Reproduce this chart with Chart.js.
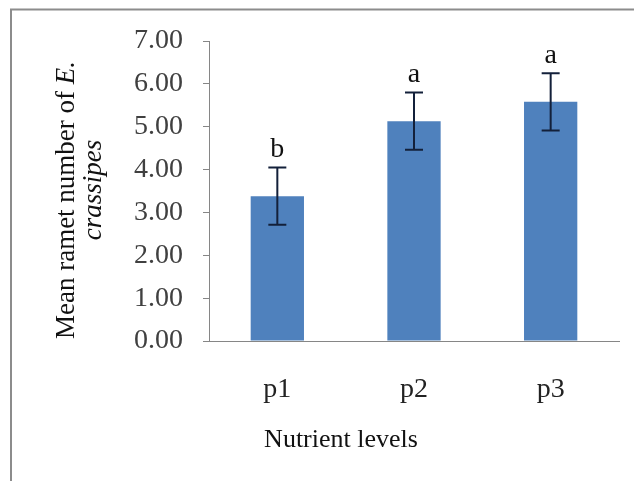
<!DOCTYPE html>
<html>
<head>
<meta charset="utf-8">
<script src="https://cdn.jsdelivr.net/npm/chart.js@4.4.0/dist/chart.umd.min.js"></script>
<style>
  html, body { margin: 0; padding: 0; background: #fff; }
  #wrap { width: 634px; height: 481px; }
</style>
</head>
<body>
<div id="wrap"><canvas id="barChart" width="634" height="481"></canvas></div>
<script>
var categories = ['p1', 'p2', 'p3'];
var means = [3.38, 5.13, 5.58];
var errors = [0.67, 0.67, 0.67];
var letters = ['b', 'a', 'a'];
var yMin = 0, yMax = 7, yStep = 1;

var serif = '"Liberation Serif", "Times New Roman", serif';

// frame, titles, error bars and letters
var extras = {
    id: 'extras',
    beforeDraw: function (chart) {
        var ctx = chart.ctx;
        ctx.save();
        ctx.strokeStyle = '#8c8c8c';
        ctx.lineWidth = 2;
        ctx.beginPath();
        ctx.moveTo(11, 490);
        ctx.lineTo(11, 9.5);
        ctx.lineTo(650, 9.5);
        ctx.stroke();
        ctx.restore();
    },
    afterDatasetsDraw: function (chart) {
        var ctx = chart.ctx;
        var meta = chart.getDatasetMeta(0);
        var y = chart.scales.y;
        ctx.save();
        ctx.strokeStyle = '#13203a';
        ctx.lineWidth = 2;
        ctx.fillStyle = '#111';
        ctx.font = '28px ' + serif;
        ctx.textAlign = 'center';
        ctx.textBaseline = 'alphabetic';
        meta.data.forEach(function (bar, i) {
            var top = y.getPixelForValue(means[i] + errors[i]);
            var bot = y.getPixelForValue(means[i] - errors[i]);
            ctx.beginPath();
            ctx.moveTo(bar.x, top);
            ctx.lineTo(bar.x, bot);
            ctx.moveTo(bar.x - 9, top);
            ctx.lineTo(bar.x + 9, top);
            ctx.moveTo(bar.x - 9, bot);
            ctx.lineTo(bar.x + 9, bot);
            ctx.stroke();
            ctx.fillText(letters[i], bar.x, top - 10);
        });
        ctx.restore();
    },
    afterDraw: function (chart) {
        var ctx = chart.ctx;
        ctx.save();
        ctx.fillStyle = '#111';
        // y title, two lines, with italic species name
        var a = 'Mean ramet number of ';
        var b = 'E.';
        ctx.font = '27px ' + serif;
        var wa = ctx.measureText(a).width;
        ctx.font = 'italic 27px ' + serif;
        var wb = ctx.measureText(b).width;
        ctx.translate(74, 200);
        ctx.rotate(-Math.PI / 2);
        ctx.textAlign = 'left';
        ctx.textBaseline = 'alphabetic';
        var x0 = -(wa + wb) / 2;
        ctx.font = '27px ' + serif;
        ctx.fillText(a, x0, 0);
        ctx.font = 'italic 27px ' + serif;
        ctx.fillText(b, x0 + wa, 0);
        ctx.textAlign = 'center';
        ctx.fillText('crassipes', 10, 27);
        ctx.restore();

        ctx.save();
        ctx.fillStyle = '#111';
        ctx.font = '26px ' + serif;
        ctx.textAlign = 'center';
        ctx.textBaseline = 'alphabetic';
        ctx.fillText('Nutrient levels', 341, 447);
        ctx.restore();
    }
};

var BarData = {
    labels: categories,
    datasets: [{
        data: means,
        backgroundColor: '#4f81bd',
        borderWidth: 0,
        categoryPercentage: 1,
        barPercentage: 0.39
    }]
};

var BarConfig = {
    type: 'bar',
    data: BarData,
    options: {
        responsive: false,
        animation: false,
        layout: { padding: { top: 41, right: 15, bottom: 0, left: 0 } },
        plugins: {
            legend: { display: false },
            tooltip: { enabled: false }
        },
        scales: {
            x: {
                grid: { display: false },
                border: { display: true, color: '#868686', width: 1 },
                ticks: { color: '#222', padding: 24, font: { family: serif, size: 28 } },
                afterFit: function (s) { s.height = 140; }
            },
            y: {
                min: yMin,
                max: yMax,
                ticks: {
                    stepSize: yStep,
                    color: '#404040',
                    padding: 20,
                    font: { family: serif, size: 28 },
                    callback: function (v) { return Number(v).toFixed(2); }
                },
                grid: { drawOnChartArea: false, drawTicks: true, tickLength: 6, color: '#868686' },
                border: { display: true, color: '#868686', width: 1 },
                afterFit: function (s) { s.width = 209; }
            }
        }
    },
    plugins: [extras]
};

var barChart = new Chart(document.getElementById('barChart'), BarConfig);
</script>
</body>
</html>
